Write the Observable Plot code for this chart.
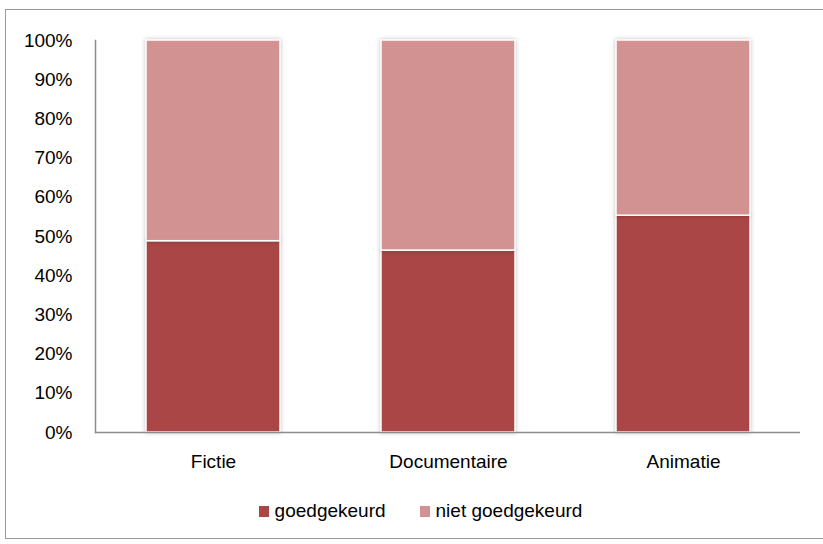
<!DOCTYPE html>
<html>
<head>
<meta charset="utf-8">
<script src="https://cdn.jsdelivr.net/npm/d3@7"></script>
<script src="https://cdn.jsdelivr.net/npm/@observablehq/plot@0.6"></script>
<style>
  html, body { margin: 0; padding: 0; background: #fff; width: 823px; height: 544px; overflow: hidden; }
  #frame { position: absolute; left: 5px; top: 9px; width: 830px; height: 530px; border: 1.5px solid #9a9a9a; box-sizing: border-box; background: #fff; }
  #chart { position: absolute; left: 0; top: 0; }
  #legend { position: absolute; left: 0; top: 490px; width: 817px; display: flex; justify-content: center; align-items: center; font-family: "Liberation Sans", Arial, sans-serif; font-size: 19px; color: #000; padding-left: 12px; box-sizing: border-box; }
  .item { display: flex; align-items: center; margin: 0 17px; }
  .sw { width: 10px; height: 11px; margin-right: 6px; }
  svg .bars rect { filter: drop-shadow(0px 0px 2px rgba(0,0,0,0.25)); }
</style>
</head>
<body>
<div id="frame">
  <div id="chart"></div>
  <div id="legend"></div>
</div>
<script>
const categories = ["Fictie", "Documentaire", "Animatie"];
const seriesNames = ["goedgekeurd", "niet goedgekeurd"];
const goedgekeurd = [48.8, 46.4, 55.3];
const nietGoedgekeurd = [51.2, 53.6, 44.7];
const colors = ["#AA4645", "#D39292"];
const yTicks = [0, 10, 20, 30, 40, 50, 60, 70, 80, 90, 100];

const data = [];
categories.forEach((c, i) => {
  data.push({category: c, series: seriesNames[0], value: goedgekeurd[i]});
  data.push({category: c, series: seriesNames[1], value: nietGoedgekeurd[i]});
});

const chart = Plot.plot({
  width: 817,
  height: 462,
  marginLeft: 89,
  marginRight: 23,
  marginTop: 30,
  marginBottom: 40,
  style: {fontFamily: "'Liberation Sans', Arial, sans-serif", fontSize: "19px", color: "#000", background: "transparent"},
  x: {domain: categories, paddingInner: 0.43, paddingOuter: 0.215, label: null},
  y: {domain: [0, 100], label: null},
  color: {domain: seriesNames, range: colors},
  marks: [
    Plot.barY(data, {x: "category", y: "value", fill: "series", stroke: "white", strokeWidth: 1.5, className: "bars"}),
    Plot.axisY({ticks: yTicks, tickFormat: d => d + "%", tickSize: 0, tickPadding: 23, label: null, fontSize: 19}),
    Plot.axisX({tickSize: 0, tickPadding: 22, label: null, fontSize: 19}),
    Plot.ruleY([0], {stroke: "#8c8c8c", strokeWidth: 1.5}),
    Plot.frame({anchor: "left", stroke: "#8c8c8c", strokeWidth: 1.5})
  ]
});
document.getElementById("chart").appendChild(chart);

const legend = document.getElementById("legend");
seriesNames.forEach((s, i) => {
  const item = document.createElement("div");
  item.className = "item";
  const sw = document.createElement("div");
  sw.className = "sw";
  sw.style.background = colors[i];
  const t = document.createElement("span");
  t.textContent = s;
  item.appendChild(sw);
  item.appendChild(t);
  legend.appendChild(item);
});
</script>
</body>
</html>
